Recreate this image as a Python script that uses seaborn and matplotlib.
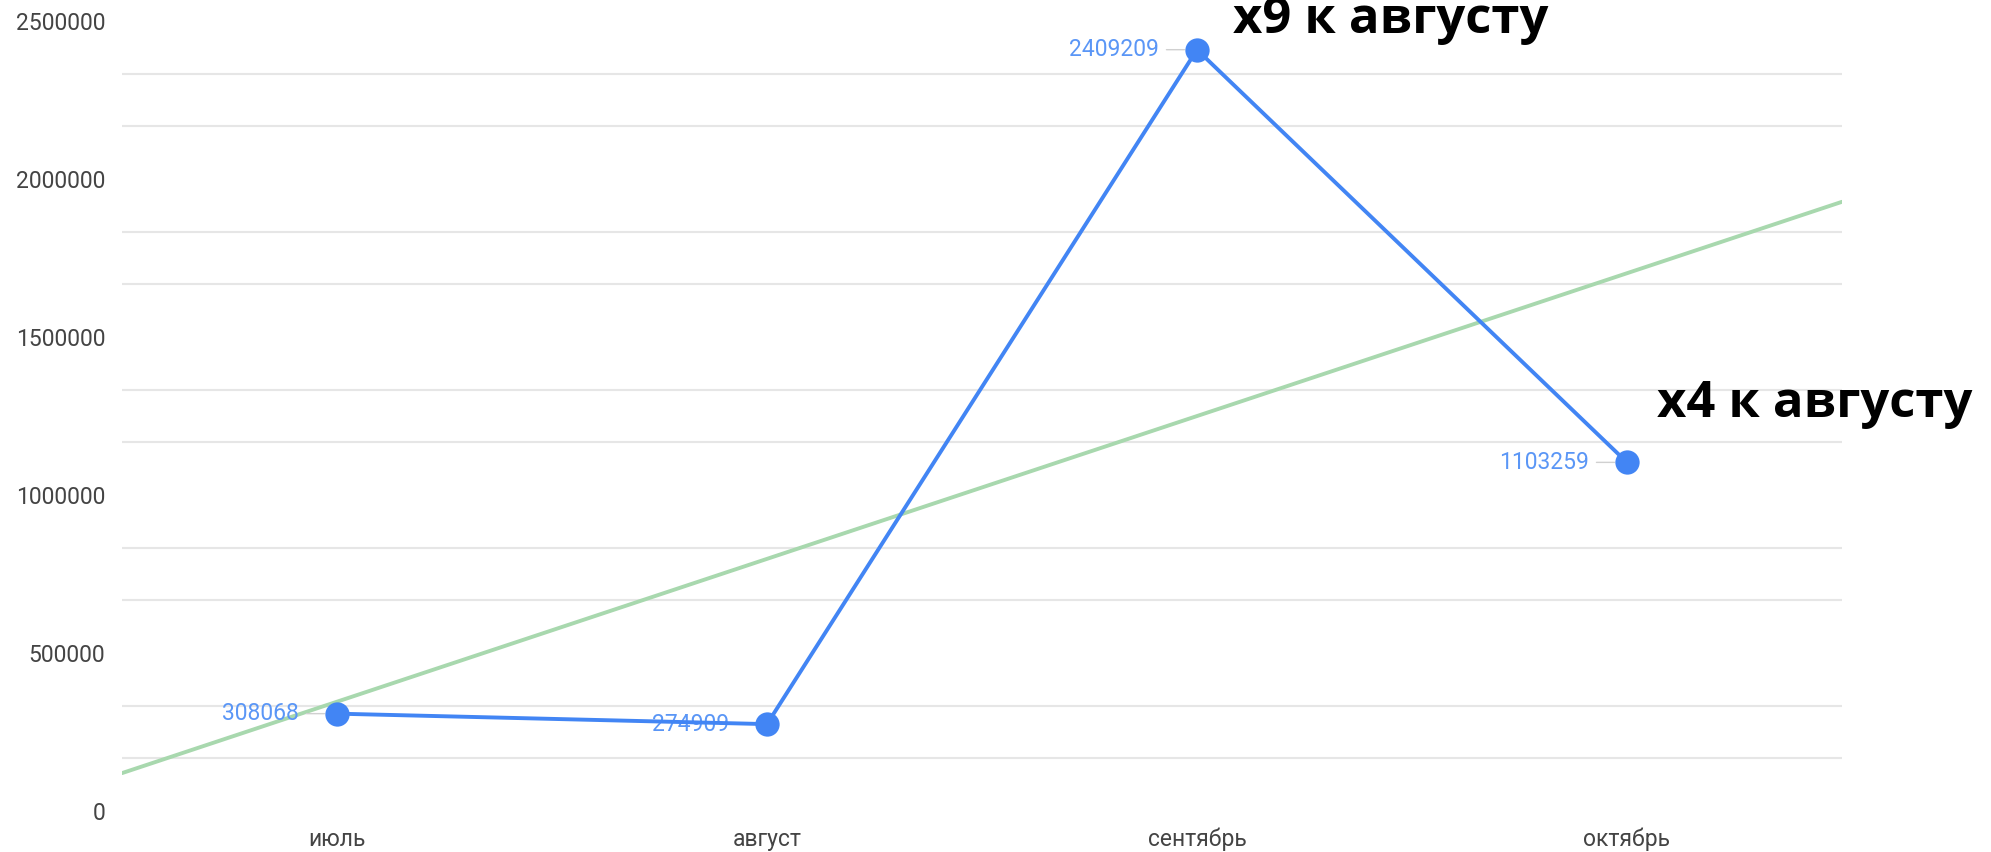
import numpy as np
import pandas as pd
import matplotlib
matplotlib.use('Agg')
import matplotlib.pyplot as plt
import seaborn as sns

# data
months = ['июль', 'август', 'сентябрь', 'октябрь']
revenue = [308068, 274909, 2409209, 1103259]
notes = {2: 'x9 к августу', 3: 'x4 к августу'}

blue = '#4285F4'
label_blue = '#5A96F6'
green = '#A8D8AE'

sns.set_style('white')
plt.rcParams['font.family'] = ['Roboto', 'DejaVu Sans']

df = pd.DataFrame({'pos': np.arange(len(months)), 'val': revenue})

fig = plt.figure(figsize=(19.91, 8.52), dpi=100)
ax = fig.add_axes([122 / 1991, 41 / 852, 1720 / 1991, 790 / 852])
ax.set_xlim(-0.5, 3.5)
ax.set_ylim(0, 2500000)

# light gridlines between the labelled ticks
for v in np.arange(0, 2500001, 500000 / 3):
    if abs(v / 500000 - round(v / 500000)) > 1e-6:
        ax.axhline(v, color='#e6e6e6', lw=1.5, zorder=0)

# trend line (linear fit over the whole axis)
sns.regplot(data=df, x='pos', y='val', scatter=False, ci=None, truncate=False,
            color=green, line_kws={'lw': 2.8, 'zorder': 1}, ax=ax)

sns.lineplot(data=df, x='pos', y='val', color=blue, lw=2.8, marker='o',
             markersize=17.5, markeredgewidth=0, zorder=4, ax=ax)

for i, v in enumerate(revenue):
    ax.annotate(str(v), xy=(i, v), xytext=(-38, 0), textcoords='offset pixels',
                ha='right', va='center', fontsize=16.5, color=label_blue,
                arrowprops=dict(arrowstyle='-', color='#d0d0d0', lw=1,
                                shrinkA=3, shrinkB=9), zorder=3)

offsets = {2: (36, 17), 3: (30, 45)}
for i, txt in notes.items():
    ax.annotate(txt, xy=(i, revenue[i]), xytext=offsets[i], textcoords='offset pixels',
                ha='left', va='baseline', fontsize=36.5, fontweight='bold',
                family=['Open Sans', 'DejaVu Sans'], color='black',
                annotation_clip=False, zorder=5)

ax.set_xticks(range(len(months)))
ax.set_xticklabels(months)
ax.set_yticks(np.arange(0, 2500001, 500000))
ax.set_yticklabels([str(int(t)) for t in np.arange(0, 2500001, 500000)])
ax.tick_params(axis='both', length=0, labelsize=16.5, labelcolor='#444444')
ax.tick_params(axis='x', pad=12)
ax.tick_params(axis='y', pad=12)
ax.set_xlabel('')
ax.set_ylabel('')
sns.despine(ax=ax, left=True, bottom=True)

fig.savefig('out.png', dpi=100)
